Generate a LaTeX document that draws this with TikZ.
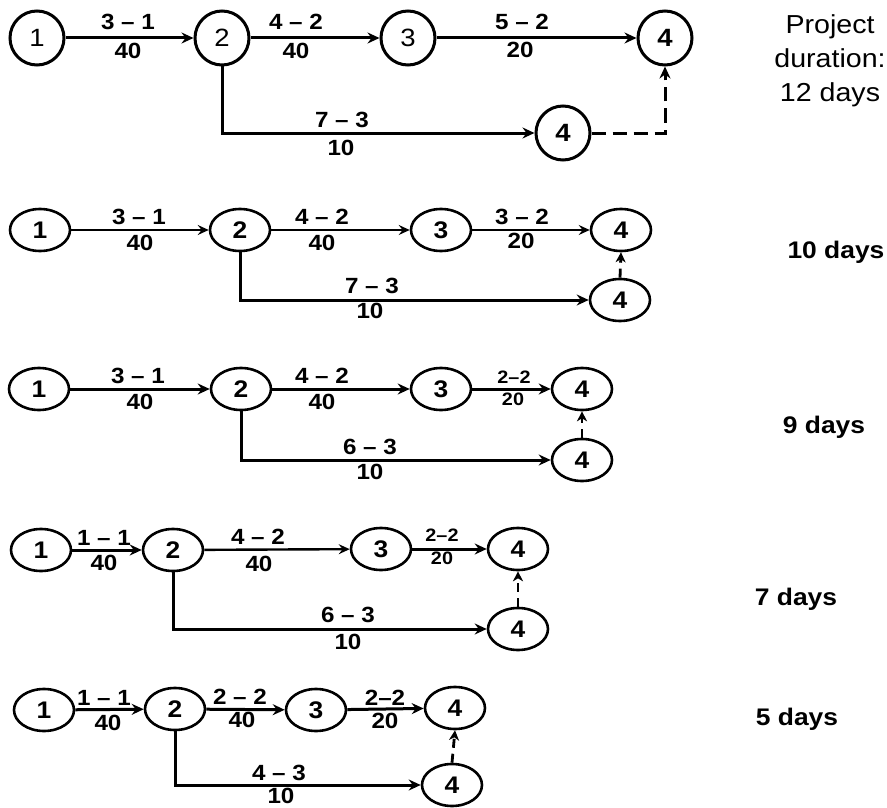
\documentclass[tikz,border=0pt]{standalone}
\usepackage{fontspec}
\setmainfont{Liberation Sans}[FakeStretch=1.1]
\usetikzlibrary{shapes.geometric,arrows.meta}
\begin{document}
\begin{tikzpicture}[x=1pt,y=-1pt,
  cn/.style={draw, circle, line width=3pt, minimum size=54pt, inner sep=0pt, font=\fontsize{25}{25}\selectfont},
  cnb/.style={cn, font=\bfseries\fontsize{25}{25}\selectfont},
  nd/.style={draw, ellipse, line width=2.6pt, minimum width=60pt, minimum height=42pt, inner sep=0pt, font=\bfseries\fontsize{24}{24}\selectfont},
  lb/.style={font=\bfseries\fontsize{22}{22}\selectfont, inner sep=0pt},
  lbm/.style={font=\bfseries\fontsize{22}{22}\selectfont, inner sep=0pt},
  lbs/.style={font=\bfseries\fontsize{18}{18}\selectfont, inner sep=0pt},
  rt/.style={font=\fontsize{26}{34}\selectfont, align=center, inner sep=0pt},
  rtb/.style={font=\bfseries\fontsize{24}{24}\selectfont, inner sep=0pt},
  arr/.style={line width=3pt, -{Stealth[length=12pt,width=11pt,inset=4pt]}},
  arrt/.style={line width=2.4pt, -{Stealth[length=11pt,width=10pt,inset=4pt]}},
  dsh/.style={line width=3pt, dash pattern=on 14pt off 7pt, -{Stealth[length=12pt,width=11pt,inset=4pt]}},
  dshs/.style={line width=2.8pt, dash pattern=on 9pt off 6pt, -{Stealth[length=10pt,width=10pt,inset=3pt]}}]
\useasboundingbox (0,0) rectangle (887,808);
% ---------- Row 1 ----------
\node[cn]  (a1) at (37,38) {1};
\node[cn]  (a2) at (222,38) {2};
\node[cn]  (a3) at (408,38) {3};
\node[cnb] (a4) at (665,38) {4};
\node[cnb] (a5) at (563,133) {4};
\draw[arr] (a1) -- (a2);
\draw[arr] (a2) -- (a3);
\draw[arr] (a3) -- (a4);
\draw[arr] (a2.south) |- (a5.west);
\draw[dsh] (a5.east) -| (a4.south);
\node[lb] (la1) at (128,22) {3 – 1};
\node[lb] (la2) at (128,51) {40};
\node[lb] (la3) at (296,22) {4 – 2};
\node[lb] (la4) at (296,51) {40};
\node[lb] (la5) at (522,22) {5 – 2};
\node[lb] (la6) at (520,50) {20};
\node[lb] (la7) at (342,120) {7 – 3};
\node[lb] (la8) at (341,148) {10};
\node[rt] (pd) at (830,61) {Project\\duration:\\12 days};
% ---------- Row 2 ----------
\node[nd] (b1) at (40,230) {1};
\node[nd] (b2) at (240,230) {2};
\node[nd] (b3) at (441,230) {3};
\node[nd] (b4) at (621,230) {4};
\node[nd] (b5) at (620,300) {4};
\draw[arrt] (b1) -- (b2);
\draw[arrt] (b2) -- (b3);
\draw[arrt] (b3) -- (b4);
\draw[arr] (b2.south) |- (b5.west);
\draw[dshs] (b5.north) -- (b4.south);
\node[lbm] (lb1) at (139,217) {3 – 1};
\node[lbm] (lb2) at (140,243) {40};
\node[lbm] (lb3) at (322,217) {4 – 2};
\node[lbm] (lb4) at (322,243) {40};
\node[lbm] (lb5) at (522,217) {3 – 2};
\node[lbm] (lb6) at (521,241) {20};
\node[lbm] (lb7) at (372,286) {7 – 3};
\node[lbm] (lb8) at (370,311) {10};
\node[rtb] (d10) at (836,252) {10 days};
% ---------- Row 3 ----------
\node[nd] (c1) at (39,389) {1};
\node[nd] (c2) at (241,389) {2};
\node[nd] (c3) at (441,389) {3};
\node[nd] (c4) at (582,389) {4};
\node[nd] (c5) at (582,460) {4};
\draw[arr] (c1) -- (c2);
\draw[arr] (c2) -- (c3);
\draw[arr] (c3) -- (c4);
\draw[arr] (c2.south) |- (c5.west);
\draw[dshs] (c5.north) -- (c4.south);
\node[lbm] (lc1) at (138,376) {3 – 1};
\node[lbm] (lc2) at (140,402) {40};
\node[lbm] (lc3) at (322,376) {4 – 2};
\node[lbm] (lc4) at (322,402) {40};
\node[lbs] (lc5) at (514,377) {2–2};
\node[lbs] (lc6) at (513,399) {20};
\node[lbm] (lc7) at (370,447) {6 – 3};
\node[lbm] (lc8) at (370,472) {10};
\node[rtb] (d9) at (824,427) {9 days};
% ---------- Row 4 ----------
\node[nd] (e1) at (41,550) {1};
\node[nd] (e2) at (173,550) {2};
\node[nd] (e3) at (381,549) {3};
\node[nd] (e4) at (518,549) {4};
\node[nd] (e5) at (518,629) {4};
\draw[arr] (e1) -- (e2);
\draw[arrt] (e2) -- (e3);
\draw[arr] (e3) -- (e4);
\draw[arr] (e2.south) |- (e5.west);
\draw[dshs] (e5.north) -- (e4.south);
\node[lbm] (le1) at (104,538) {1 – 1};
\node[lbm] (le2) at (104,563) {40};
\node[lb] (le3) at (258,537) {4 – 2};
\node[lb] (le4) at (259,564) {40};
\node[lbs] (le5) at (442,535) {2–2};
\node[lbs] (le6) at (442,558) {20};
\node[lb] (le7) at (348,615) {6 – 3};
\node[lb] (le8) at (348,642) {10};
\node[rtb] (d7) at (796,599) {7 days};
% ---------- Row 5 ----------
\node[nd] (f1) at (44,710) {1};
\node[nd] (f2) at (175,709) {2};
\node[nd] (f3) at (316,710) {3};
\node[nd] (f4) at (455,708) {4};
\node[nd] (f5) at (452,785) {4};
\draw[arr] (f1) -- (f2);
\draw[arr] (f2) -- (f3);
\draw[arr] (f3) -- (f4);
\draw[arr] (f2.south) |- (f5.west);
\draw[dshs] (f5.north) -- (f4.south);
\node[lbm] (lf1) at (104,698) {1 – 1};
\node[lbm] (lf2) at (108,723) {40};
\node[lbm] (lf3) at (240,697) {2 – 2};
\node[lbm] (lf4) at (242,720) {40};
\node[lbm] (lf5) at (385,698) {2–2};
\node[lbm] (lf6) at (385,721) {20};
\node[lbm] (lf7) at (279,773) {4 – 3};
\node[lbm] (lf8) at (281,796) {10};
\node[rtb] (d5) at (797,719) {5 days};
\end{tikzpicture}
\end{document}
